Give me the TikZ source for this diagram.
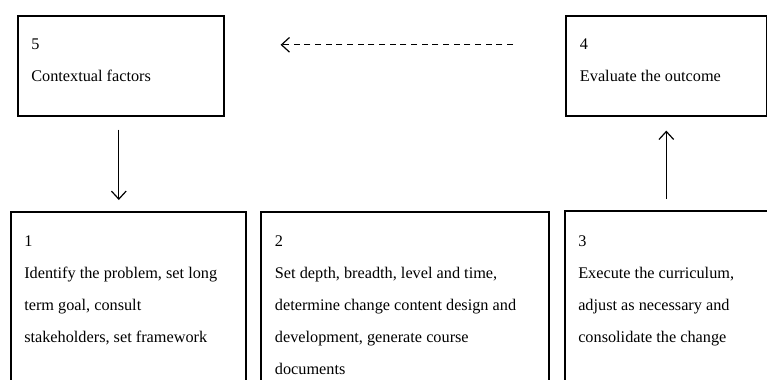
\documentclass[tikz,border=0pt]{standalone}
\usepackage{fontspec}
\setmainfont{Liberation Serif}
\usetikzlibrary{arrows.meta,positioning}

\tikzset{
  stagebox/.style={draw, line width=1.2pt, anchor=north west, inner sep=0pt, minimum height=75pt},
  stagetext/.style={inner sep=0pt, align=left, font=\fontsize{12.2pt}{24pt}\selectfont},
  flow/.style={line width=0.9pt, -{Straight Barb[length=6pt, width=11pt, line width=0.9pt]}}
}

\begin{document}
\begin{tikzpicture}[x=0.75pt, y=-0.75pt]
        \useasboundingbox (0,0) rectangle (767,379);
        \clip (0,0) rectangle (767,379);

        % top row
        \node[stagebox, minimum width=154.5pt] (f5) at (17,15) {};
        \node[stagetext, below right=18pt and 10.5pt of f5.north west] (f5t) {5\\Contextual factors};

        \node[stagebox, minimum width=150.75pt] (f4) at (565,15) {};
        \node[stagetext, below right=18pt and 11pt of f4.north west] (f4t) {4\\Evaluate the outcome};

        % bottom row
        \node[stagebox, minimum width=176.25pt, minimum height=150pt] (f1) at (10,211) {};
        \node[stagetext, below right=18.5pt and 10.5pt of f1.north west] (f1t)
          {1\\Identify the problem, set long\\term goal, consult\\stakeholders, set framework};

        \node[stagebox, minimum width=216pt, minimum height=150pt] (f2) at (260,211) {};
        \node[stagetext, below right=18.5pt and 11pt of f2.north west] (f2t)
          {2\\Set depth, breadth, level and time,\\determine change content design and\\development, generate course\\documents};

        \node[stagebox, minimum width=240pt, minimum height=150pt] (f3) at (564,210) {};
        \node[stagetext, below right=19.25pt and 10.5pt of f3.north west] (f3t)
          {3\\Execute the curriculum,\\adjust as necessary and\\consolidate the change};

        % arrows
        \draw[flow, shorten <=9.75pt, shorten >=8.25pt] ([xshift=-1.5pt]f5.south) -- ([xshift=-1.5pt]f5.south |- f1.north);
        \draw[flow, shorten <=8.25pt, shorten >=10.5pt] (f4.south |- f3.north) -- (f4.south);
        \draw[flow, dash pattern=on 4.5pt off 3.5pt, shorten <=39pt, shorten >=42pt] ([yshift=15.75pt]f4.west) -- ([yshift=15.75pt]f4.west -| f5.east);
      \end{tikzpicture}
\end{document}
